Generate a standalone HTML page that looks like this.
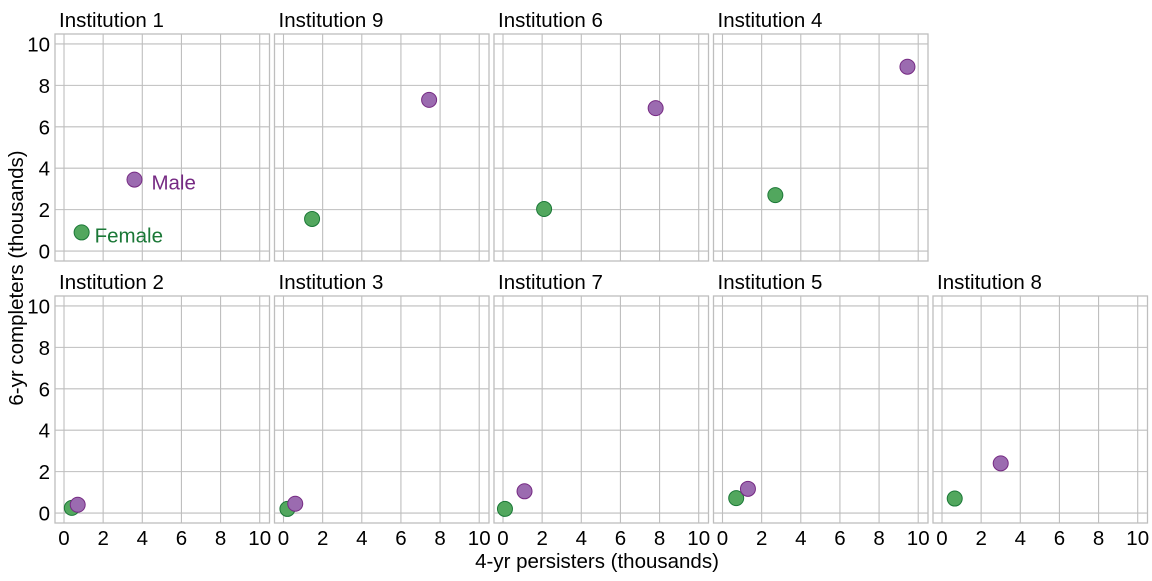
<!DOCTYPE html>
<html><head><meta charset="utf-8"><style>
body{margin:0;background:#fff;}
svg text{font-family:"Liberation Sans",Arial,sans-serif;}
</style></head><body>
<svg id="c" width="1152" height="576" xmlns="http://www.w3.org/2000/svg"></svg>
<script>
const panelNames=["Institution 1","Institution 9","Institution 6","Institution 4","Institution 2","Institution 3","Institution 7","Institution 5","Institution 8"];
const femaleX=[0.9,1.46,2.1,2.7,0.4,0.2,0.1,0.7,0.65];
const femaleY=[0.9,1.55,2.03,2.7,0.25,0.2,0.2,0.72,0.7];
const maleX=[3.6,7.44,7.8,9.45,0.7,0.6,1.1,1.3,3.0];
const maleY=[3.45,7.3,6.9,8.9,0.4,0.45,1.05,1.17,2.4];
const ticks=[0,2,4,6,8,10];
const NS="http://www.w3.org/2000/svg";
const svg=document.getElementById('c');
function mk(t,a,p){const e=document.createElementNS(NS,t);for(const k in a)e.setAttribute(k,a[k]);(p||svg).appendChild(e);return e;}
const PW=214.5,PH=227,lefts=[55,274.5,494,713.5,933],tops=[34,296];
const xmin=-0.46,xmax=10.5,ymin=-0.48,ymax=10.48;
const FS=20.5;
const slots=[[0,0],[0,1],[0,2],[0,3],[1,0],[1,1],[1,2],[1,3],[1,4]];
panelNames.forEach((nm,i)=>{
  const [r,c]=slots[i];const L=lefts[c],T=tops[r];
  const sx=v=>L+(v-xmin)/(xmax-xmin)*PW;
  const sy=v=>T+PH-(v-ymin)/(ymax-ymin)*PH;
  const g=mk('g',{});
  
  
  const st=mk('text',{x:L+4,y:T-7,'font-size':FS,fill:'#000'},g);st.textContent=nm;
  
  
  ticks.forEach(t=>{
    const gx=mk('line',{x1:sx(t),x2:sx(t),y1:T,y2:T+PH,stroke:'#bebebe','stroke-width':1.1},g);
    
    
    const gy=mk('line',{x1:L,x2:L+PW,y1:sy(t),y2:sy(t),stroke:'#bebebe','stroke-width':1.1},g);
    
    
    if(c===0){const tl=mk('text',{x:L-5,y:sy(t)+7.5,'font-size':FS,'text-anchor':'end',fill:'#000'},g);tl.textContent=t;
      
      }
    if(r===1){const tl=mk('text',{x:sx(t),y:T+PH+22,'font-size':FS,'text-anchor':'middle',fill:'#000'},g);tl.textContent=t;
      
      }
  });
  const b=mk('rect',{x:L,y:T,width:PW,height:PH,fill:'none',stroke:'#bebebe','stroke-width':1.3},g);
  
  
  const f=mk('circle',{cx:sx(femaleX[i]),cy:sy(femaleY[i]),r:7.5,fill:'#52a75e',stroke:'#1b7837','stroke-width':1},g);
  
  
  const m=mk('circle',{cx:sx(maleX[i]),cy:sy(maleY[i]),r:7.5,fill:'#9b6bb0',stroke:'#762a83','stroke-width':1},g);
  
  
  if(i===0){
    const lm=mk('text',{x:sx(maleX[i])+17,y:sy(maleY[i])+10,'font-size':FS,fill:'#762a83'},g);lm.textContent='Male';
    
    
    const lf=mk('text',{x:sx(femaleX[i])+13,y:sy(femaleY[i])+10,'font-size':FS,fill:'#1b7837'},g);lf.textContent='Female';
    
    
  }
});
const xt=mk('text',{x:597,y:568,'font-size':FS,'text-anchor':'middle',fill:'#000'});xt.textContent='4-yr persisters (thousands)';


const yt=mk('text',{x:0,y:0,'font-size':FS,'text-anchor':'middle',fill:'#000',transform:'translate(23,278) rotate(-90)'});yt.textContent='6-yr completers (thousands)';


</script>
</body></html>
